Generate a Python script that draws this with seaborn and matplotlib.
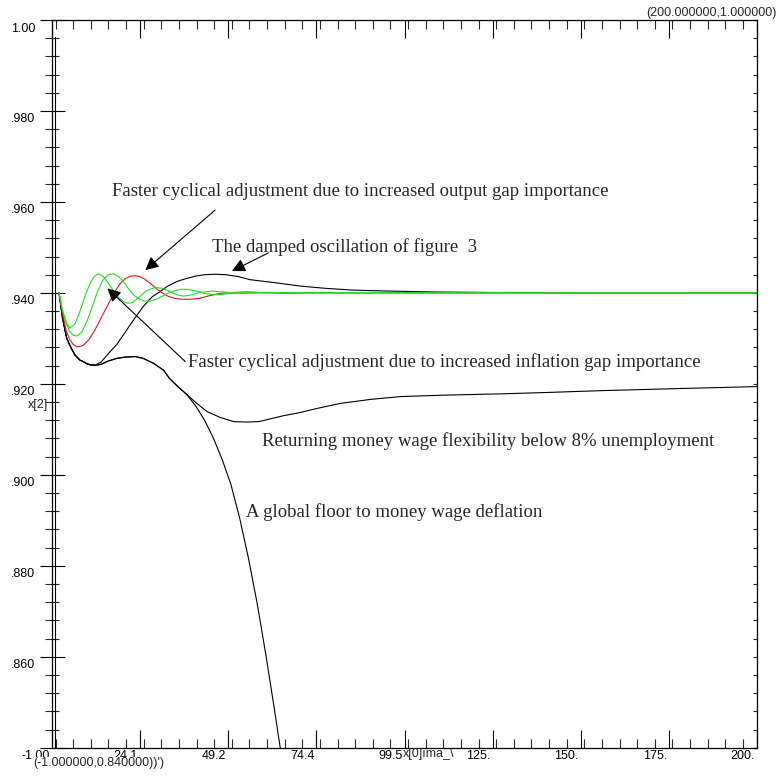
import numpy as np
import pandas as pd
import matplotlib
matplotlib.use("Agg")
import matplotlib.pyplot as plt
import matplotlib.transforms as mtransforms
from matplotlib.ticker import FixedLocator, MultipleLocator
import seaborn as sns

# ---------------- data ----------------
green_fast_x = [1, 2, 3.2, 4.1, 5.5, 7, 8.5, 10, 11, 12.2, 13.5, 15, 16.5, 18, 19.5,
                20.8, 22, 24, 26, 28.4, 30.5, 32.5, 34.5, 36.5, 38.5, 41, 44.6, 48,
                52, 56, 62, 70, 100, 150, 200]
green_fast_y = [0.9400, 0.9362, 0.9333, 0.9323, 0.9331, 0.9360, 0.9395, 0.9423, 0.9436,
                0.9442, 0.9437, 0.9422, 0.9405, 0.9390, 0.9380, 0.9377, 0.9379, 0.9392,
                0.9405, 0.9412, 0.9410, 0.9403, 0.9396, 0.9393, 0.9395, 0.9401, 0.9404,
                0.9402, 0.9399, 0.9399, 0.9401, 0.9400, 0.9400, 0.9400, 0.9400]

green_mid_x = [1, 2, 3, 4, 5, 6.05, 7.5, 9, 10.5, 12, 13.5, 15, 16.5, 18, 19.5, 21, 22.5,
               24, 25.5, 27, 28.5, 30, 32, 34, 36, 37.5, 39, 41, 43, 45, 48, 51, 55, 60,
               70, 100, 150, 200]
green_mid_y = [0.9400, 0.9360, 0.9333, 0.9316, 0.9307, 0.9305, 0.9314, 0.9338, 0.9370,
               0.9403, 0.9428, 0.9440, 0.9442, 0.9436, 0.9423, 0.9407, 0.9394, 0.9386,
               0.9382, 0.9382, 0.9385, 0.9391, 0.9399, 0.9405, 0.9408, 0.9408, 0.9406,
               0.9402, 0.9398, 0.9396, 0.9397, 0.9400, 0.9402, 0.9400, 0.9400, 0.9400,
               0.9400, 0.9400]

red_x = [1, 2, 3, 4, 5, 6, 6.8, 8, 9.5, 11, 12.5, 14, 15.5, 17, 18.5, 20, 21.5, 22.7,
         24, 25.5, 27, 28.5, 30, 32, 34, 36, 38.6, 41, 44, 47, 50.8, 54.5, 58, 62, 66,
         72, 80, 120, 180]
red_y = [0.9400, 0.9355, 0.9318, 0.9298, 0.9287, 0.9282, 0.9282, 0.9285, 0.9297, 0.9315,
         0.9337, 0.9360, 0.9382, 0.9404, 0.9421, 0.9432, 0.9437, 0.9438, 0.9436, 0.9430,
         0.9421, 0.9411, 0.9402, 0.9393, 0.9388, 0.9386, 0.9386, 0.9388, 0.9394, 0.9399,
         0.9401, 0.9402, 0.9401, 0.9400, 0.9399, 0.9400, 0.9400, 0.9400, 0.9400]

damped_x = [1, 2, 3.2, 4.5, 5.6, 7, 7.9, 9, 10.3, 11.5, 13, 15.6, 17.5, 20, 22.2, 25,
            27.5, 29.8, 32, 34.6, 37, 40, 42.5, 45.5, 48.5, 52, 55.5, 62, 69.8, 77, 85,
            95, 108, 123, 150, 200]
damped_y = [0.9400, 0.9345, 0.9300, 0.9278, 0.9263, 0.9252, 0.9249, 0.9244, 0.9241,
            0.9242, 0.9248, 0.9271, 0.9287, 0.9315, 0.9340, 0.9370, 0.9391, 0.9403,
            0.9415, 0.9425, 0.9431, 0.9437, 0.9440, 0.9441, 0.9440, 0.9436, 0.9429,
            0.9423, 0.9415, 0.9410, 0.9406, 0.9404, 0.9402, 0.9401, 0.9400, 0.9400]

returning_x = [1, 2, 3.2, 4.5, 5.6, 7, 7.9, 9, 10.3, 11.5, 13, 15, 17.5, 20, 22.7, 25,
               28, 30.8, 32.5, 35, 36.5, 37.5, 40, 43.2, 47, 50.8, 54.6, 58, 65, 69.8,
               74.6, 81.2, 90, 98.4, 110, 126.9, 140, 155.5, 170, 179.3, 190, 200]
returning_y = [0.9400, 0.9345, 0.9300, 0.9278, 0.9263, 0.9252, 0.9249, 0.9244, 0.9241,
               0.9241, 0.9243, 0.9250, 0.9256, 0.9259, 0.9260, 0.9256, 0.9245, 0.9230,
               0.9212, 0.9193, 0.9183, 0.9176, 0.9159, 0.9139, 0.9126, 0.9117, 0.9116,
               0.9117, 0.9130, 0.9137, 0.9146, 0.9157, 0.9166, 0.9172, 0.9175, 0.9178,
               0.9181, 0.9185, 0.9188, 0.9190, 0.9192, 0.9194]

floor_x = [1, 2, 3.2, 4.5, 5.6, 7, 7.9, 9, 10.3, 11.5, 13, 15, 17.5, 20, 22.7, 25, 28,
           30.8, 32.5, 35, 36.5, 37.5, 40, 42.5, 45, 47.5, 50, 52.5, 55, 57.5, 60, 62.5,
           65, 67.5]
floor_y = [0.9400, 0.9345, 0.9300, 0.9278, 0.9263, 0.9252, 0.9249, 0.9244, 0.9241,
           0.9241, 0.9243, 0.9250, 0.9256, 0.9259, 0.9260, 0.9256, 0.9245, 0.9230,
           0.9212, 0.9193, 0.9183, 0.9176, 0.9151, 0.9120, 0.9081, 0.9034, 0.8979,
           0.8905, 0.8817, 0.8717, 0.8603, 0.8480, 0.8352, 0.8220]

x_major = [-1, 24.125, 49.25, 74.375, 99.5, 124.625, 149.75, 174.875, 200]
x_labels = ["-1.00", "24.1", "49.2", "74.4", "99.5", "125.", "150.", "175.", "200."]
y_major = [0.84, 0.86, 0.88, 0.90, 0.92, 0.94, 0.96, 0.98, 1.00]
y_labels = ["", ".860", ".880", ".900", ".920", ".940", ".960", ".980", "1.00"]

# ---------------- figure ----------------
sns.set_style("white")
plt.rcParams["font.family"] = ["Liberation Sans", "DejaVu Sans"]

W, H = 778, 776
fig = plt.figure(figsize=(W / 100, H / 100), dpi=100)
ax = fig.add_axes([52 / W, 1 - 747.7 / H, 705 / W, 727.7 / H])

series = [
    (damped_x, damped_y, "black"),
    (returning_x, returning_y, "black"),
    (floor_x, floor_y, "black"),
    (red_x, red_y, "#e3141c"),
    (green_mid_x, green_mid_y, "#22dd22"),
    (green_fast_x, green_fast_y, "#22dd22"),
]
for xs, ys, c in series:
    sns.lineplot(x=xs, y=ys, color=c, lw=0.8, ax=ax, estimator=None, sort=False)

ax.set_xlim(-1, 200)
ax.set_ylim(0.84, 1.00)

for s in ax.spines.values():
    s.set_visible(True)
    s.set_color("black")
    s.set_linewidth(0.9)

# ticks
ax.xaxis.set_major_locator(FixedLocator(x_major))
ax.xaxis.set_minor_locator(MultipleLocator(201 / 40))
ax.set_xticklabels(x_labels)
ax.yaxis.set_major_locator(FixedLocator(y_major))
ax.yaxis.set_minor_locator(MultipleLocator(0.004))
ax.set_yticklabels(y_labels)

ax.tick_params(axis="x", which="major", direction="in", length=13, width=0.8,
               top=True, bottom=True, labelsize=9, pad=1.5, colors="black")
ax.tick_params(axis="x", which="minor", direction="in", length=6.5, width=0.8,
               top=True, bottom=True)
ax.tick_params(axis="y", which="major", direction="inout", length=18, width=0.8,
               left=True, right=False, labelsize=9, pad=3, colors="black")
ax.tick_params(axis="y", which="minor", direction="inout", length=10, width=0.8,
               left=True, right=False)

for lab in ax.get_xticklabels():
    lab.set_horizontalalignment("right")
    lab.set_transform(lab.get_transform() +
                      mtransforms.ScaledTranslation(-2 / 100, 0, fig.dpi_scale_trans))
for lab in ax.get_yticklabels():
    lab.set_transform(lab.get_transform() +
                      mtransforms.ScaledTranslation(0, -7 / 100, fig.dpi_scale_trans))

# small inward ticks on the right edge
ax2 = ax.secondary_yaxis("right")
ax2.yaxis.set_major_locator(MultipleLocator(0.004))
ax2.tick_params(axis="y", which="major", direction="in", length=3, width=0.8,
                labelright=False)
ax2.spines["right"].set_visible(False)

# double line on left axis
ax.plot([3.4 / 705, 3.4 / 705], [0, 1 - 17 / 727.7], transform=ax.transAxes,
        color="black", lw=0.8, clip_on=False)

# annotations
serif = ["Liberation Serif", "DejaVu Serif"]
fs = 13.5
arrow = dict(arrowstyle="-|>", color="black", lw=0.8, mutation_scale=20,
             shrinkA=0, shrinkB=0)
ax.text(16.1, 0.9622, "Faster cyclical adjustment due to increased output gap importance",
        family=serif, fontsize=fs, va="center", ha="left")
ax.annotate("", xy=(25.6, 0.9450), xytext=(45.5, 0.9582), arrowprops=arrow)
ax.text(44.6, 0.9501, "The damped oscillation of figure  3",
        family=serif, fontsize=fs, va="center", ha="left")
ax.annotate("", xy=(50.3, 0.9448), xytext=(60.7, 0.9488), arrowprops=arrow)
ax.text(37.9, 0.9248, "Faster cyclical adjustment due to increased inflation gap importance",
        family=serif, fontsize=fs, va="center", ha="left")
ax.annotate("", xy=(14.8, 0.9410), xytext=(37.0, 0.9249), arrowprops=arrow)
ax.text(58.9, 0.9074, "Returning money wage flexibility below 8% unemployment",
        family=serif, fontsize=fs, va="center", ha="left")
ax.text(54.4, 0.8919, "A global floor to money wage deflation",
        family=serif, fontsize=fs, va="center", ha="left")

# corner / axis texts
fig.text(777 / W, 1 - 13 / H, "(200.000000,1.000000)", ha="right", va="center",
         fontsize=9)
fig.text(33 / W, 1 - 763 / H, "(-1.000000,0.840000))')", ha="left", va="center",
         fontsize=9, bbox=dict(facecolor="white", edgecolor="none", pad=0))
fig.text(403 / W, 1 - 754 / H, "x[0]\u0131ma_\\", ha="left", va="center",
         fontsize=9)
fig.text(28 / W, 1 - 405 / H, "x[2]", ha="left", va="center", fontsize=9)

fig.savefig("out.png", dpi=100)
